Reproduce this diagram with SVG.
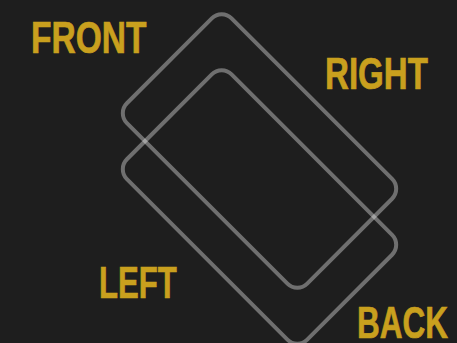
<svg xmlns="http://www.w3.org/2000/svg" width="457" height="343" viewBox="0 0 457 343">
<style>
.card{fill:none;stroke:#ffffff;stroke-opacity:0.36;stroke-width:4}
.lbl{font-family:"Liberation Sans",Arial,sans-serif;font-weight:bold;font-size:45px;fill:#c9a01e;stroke:#c9a01e;stroke-width:0.7}
</style>
<rect width="457" height="343" fill="#1e1e1e"/>
<g id="connectors"></g>
<g id="card-top"><rect class="card" x="-127.5" y="-74" width="255" height="148" rx="14" transform="translate(259.5,151) rotate(45)"/></g>
<g id="card-bottom"><rect class="card" x="-127.5" y="-74" width="255" height="148" rx="14" transform="translate(259.5,207) rotate(45)"/></g>
<g id="label-front"><text class="lbl" transform="translate(31,53) scale(0.7,1)" textLength="165" lengthAdjust="spacingAndGlyphs">FRONT</text></g>
<g id="label-right"><text class="lbl" transform="translate(325,89) scale(0.7,1)" textLength="147" lengthAdjust="spacingAndGlyphs">RIGHT</text></g>
<g id="label-left"><text class="lbl" transform="translate(99,298) scale(0.7,1)" textLength="111" lengthAdjust="spacingAndGlyphs">LEFT</text></g>
<g id="label-back"><text class="lbl" transform="translate(357,338) scale(0.7,1)" textLength="130" lengthAdjust="spacingAndGlyphs">BACK</text></g>
</svg>
